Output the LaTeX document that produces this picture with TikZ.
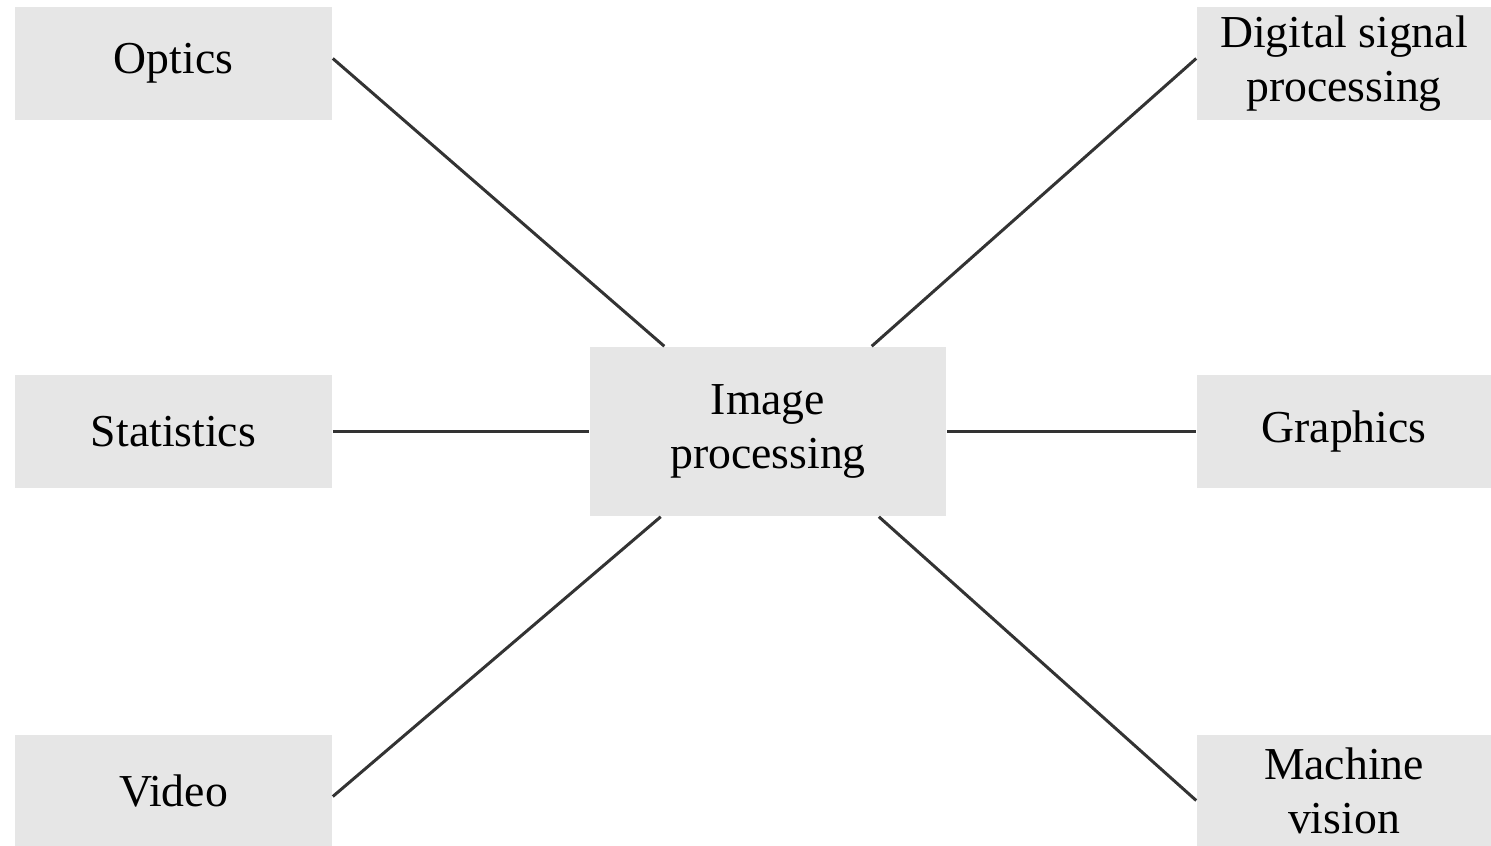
\documentclass[tikz,border=0pt]{standalone}
\usepackage{fontspec}
\setmainfont{Liberation Serif}
\usetikzlibrary{calc}

\definecolor{boxgray}{HTML}{E6E6E6}

\tikzset{
    field/.style={fill=boxgray, align=center, inner sep=0pt,
        font=\fontsize{13}{15.4}\selectfont},
    link/.style={draw=black!80, line width=0.85pt}
}

\begin{document}
\begin{tikzpicture}[x=0.01cm, y=-0.01cm]
    \useasboundingbox (0,0) rectangle (1491,846);

    % the central field
    \node[field, minimum width=3.56cm, minimum height=1.69cm] (img) at (768,431.5) {Image\\processing};

    % neighbouring fields on the left
    \node[field, minimum width=3.17cm, minimum height=1.13cm] (optics) at (173.5,63.5) {Optics};
    \node[field, minimum width=3.17cm, minimum height=1.13cm] (stats) at (173.5,431.5) {Statistics};
    \node[field, minimum width=3.17cm, minimum height=1.11cm] (video) at (173.5,790.5) {Video};

    % neighbouring fields on the right
    \node[field, minimum width=2.94cm, minimum height=1.13cm] (dsp) at (1344,63.5) {Digital signal\\processing};
    \node[field, minimum width=2.94cm, minimum height=1.13cm] (graphics) at (1344,431.5) {Graphics};
    \node[field, minimum width=2.94cm, minimum height=1.11cm] (vision) at (1344,790.5) {Machine\\vision};

    % connections to the centre
    \draw[link] ([yshift=0.05cm]optics.east) -- ($(img.north west)!0.21!(img.north east)$);
    \draw[link] (stats.east) -- (img.west);
    \draw[link] ([yshift=-0.06cm]video.east) -- ($(img.south west)!0.2!(img.south east)$);
    \draw[link] ([yshift=0.05cm]dsp.west) -- ($(img.north west)!0.79!(img.north east)$);
    \draw[link] (img.east) -- (graphics.west);
    \draw[link] ([yshift=-0.1cm]vision.west) -- ($(img.south west)!0.81!(img.south east)$);
\end{tikzpicture}
\end{document}
